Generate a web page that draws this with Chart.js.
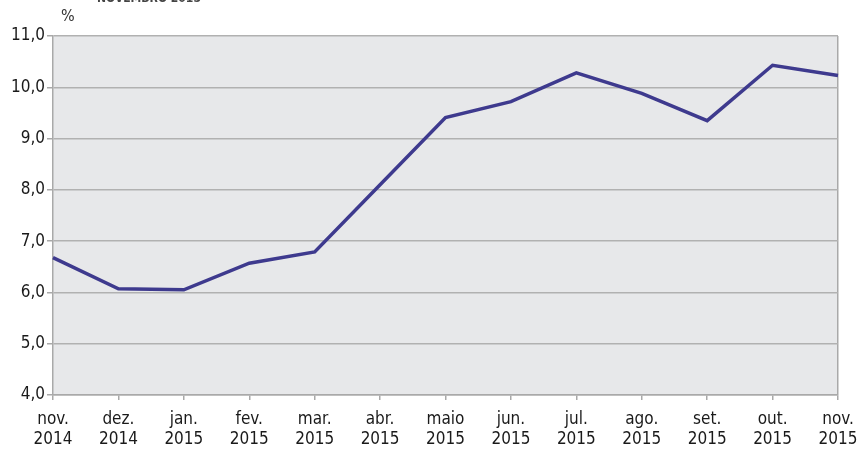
<!DOCTYPE html>
<html>
<head>
<meta charset="utf-8">
<script src="https://cdn.jsdelivr.net/npm/chart.js@4.4.0/dist/chart.umd.min.js"></script>
<style>
  body { margin: 0; background: #fff; overflow: hidden; }
  #wrap { position: relative; width: 857px; height: 450px; }
  #top { position: absolute; left: 97px; top: -9px; font: bold 12px "DejaVu Sans Condensed", sans-serif; color: #444; }
  #unit { position: absolute; left: 61px; top: 6px; font: 16px "DejaVu Sans Condensed", sans-serif; color: #333; }
</style>
</head>
<body>
<div id="wrap">
  <canvas id="myChartLine" width="857" height="450"></canvas>
  <div id="top">NOVEMBRO 2015</div>
  <div id="unit">%</div>
</div>
<script>
// meses (duas linhas por rotulo)
const months = [
    ['nov.', '2014'], ['dez.', '2014'], ['jan.', '2015'], ['fev.', '2015'],
    ['mar.', '2015'], ['abr.', '2015'], ['maio', '2015'], ['jun.', '2015'],
    ['jul.', '2015'], ['ago.', '2015'], ['set.', '2015'], ['out.', '2015'],
    ['nov.', '2015']
]
const rates = [6.68, 6.07, 6.05, 6.57, 6.79, 8.10, 9.41, 9.72, 10.28, 9.88, 9.35, 10.43, 10.23]
const yMin = 4
const yMax = 11

const fontFamily = '"DejaVu Sans Condensed", sans-serif'

// fundo cinza da area do grafico
const areaBg = {
    id: 'areaBg',
    beforeDraw(chart) {
        const a = chart.chartArea
        const c = chart.ctx
        c.save()
        c.fillStyle = '#e7e8ea'
        c.fillRect(a.left, a.top, a.right - a.left, a.bottom - a.top)
        c.restore()
    }
}

function BuildLine() {
    var data = {
        labels: months,
        datasets: [{
            label: '%',
            data: rates,
            borderColor: '#3e3a8e',
            borderWidth: 3.5,
            pointRadius: 0,
            tension: 0,
            fill: false
        }]
    };
    var ctx = document.getElementById('myChartLine');
    var myChart = new Chart(ctx, {
        type: 'line',
        data: data,
        plugins: [areaBg],
        options: {
            responsive: false,
            animation: false,
            layout: { padding: { top: 36, right: 19, left: 0, bottom: 0 } },
            plugins: {
                legend: { display: false },
                tooltip: { enabled: false }
            },
            scales: {
                x: {
                    offset: false,
                    afterFit: s => { s.height = 55; s.paddingLeft = 0; s.paddingRight = 0 },
                    grid: {
                        color: c => c.index === months.length - 1 ? '#a9a9a9' : 'rgba(0,0,0,0)',
                        tickColor: '#a9a9a9',
                        tickLength: 5,
                        lineWidth: 1.5
                    },
                    border: { color: '#a9a9a9', width: 1.5 },
                    ticks: {
                        color: '#1a1a1a',
                        maxRotation: 0,
                        autoSkip: false,
                        padding: 9,
                        font: { family: fontFamily, size: 17 }
                    }
                },
                y: {
                    min: yMin,
                    max: yMax,
                    afterFit: s => { s.width = 53 },
                    grid: {
                        color: '#b1b1b1',
                        tickColor: '#a9a9a9',
                        tickLength: 6,
                        lineWidth: 1.5
                    },
                    border: { color: '#a9a9a9', width: 1.5 },
                    ticks: {
                        stepSize: 1,
                        color: '#1a1a1a',
                        padding: 2,
                        font: { family: fontFamily, size: 17 },
                        callback: v => v.toFixed(1).replace('.', ',')
                    }
                }
            }
        }
    });
    return myChart;
}

BuildLine();
</script>
</body>
</html>
